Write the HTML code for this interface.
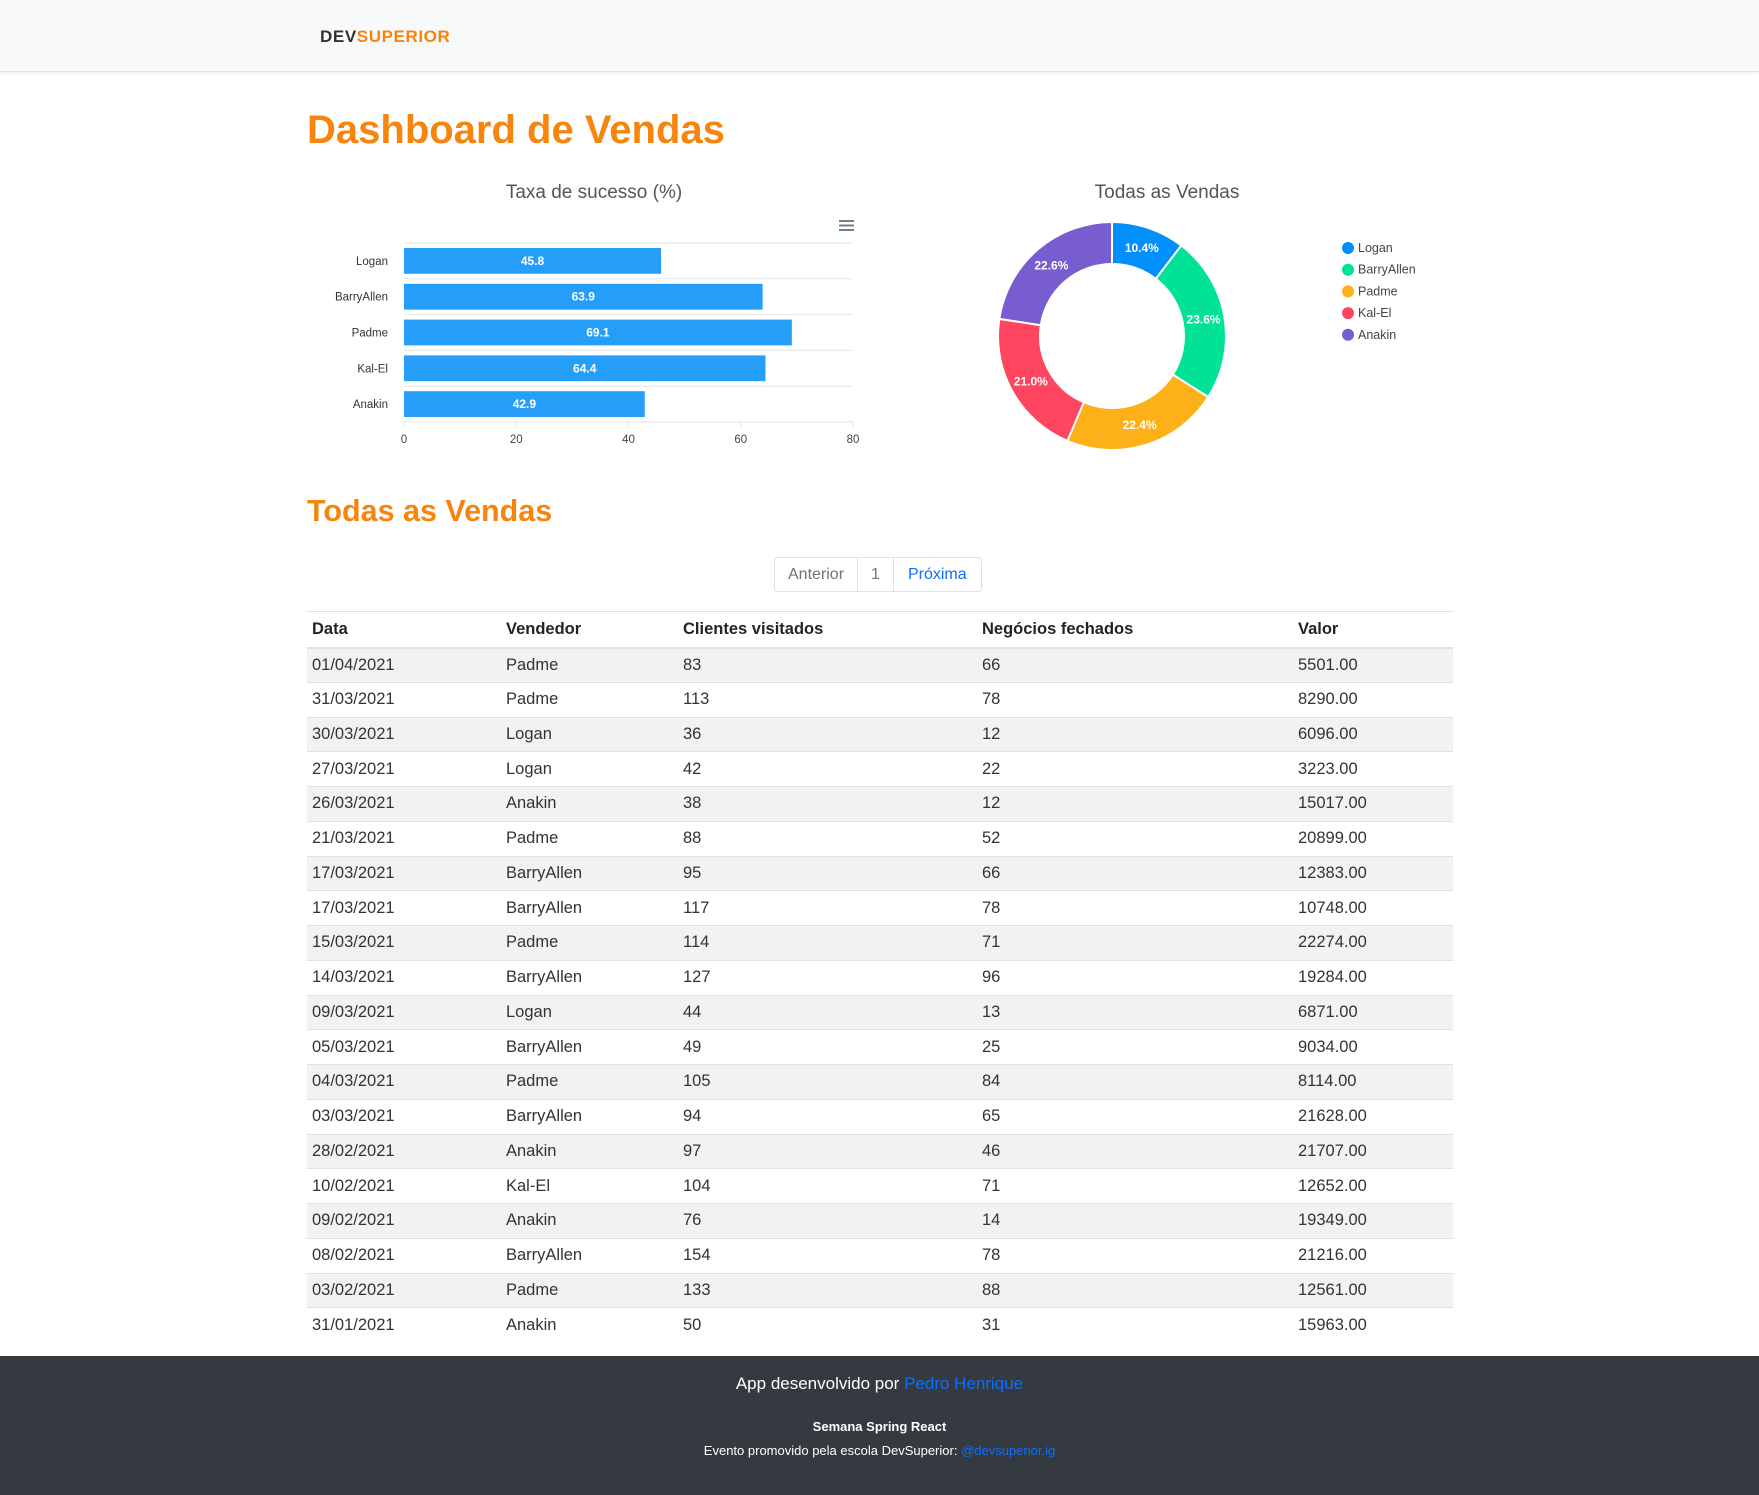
<!DOCTYPE html>
<html><head><meta charset="utf-8">
<style>
*{box-sizing:border-box;margin:0;padding:0}
body{width:1759px;height:1495px;overflow:hidden;background:#fff;font-family:"Liberation Sans",sans-serif;color:#212529;position:relative}
.nav{position:absolute;left:0;top:0;width:1759px;height:72px;background:#f8f9fa;border-bottom:1px solid #e3e3e3;box-shadow:0 1px 3px rgba(0,0,0,.08)}
.logo{position:absolute;left:320px;top:27px;font-weight:bold;font-size:17px;letter-spacing:0.6px}
h1{position:absolute;left:307px;top:108px;font-size:40px;color:#f7850d;font-weight:bold}
h2{position:absolute;left:307px;top:494px;font-size:30.5px;color:#f7850d;font-weight:bold}
.pag{position:absolute;left:774px;top:557px;height:35px;display:flex;border:1px solid #dee2e6;border-radius:4px;font-size:16px}
.pag span{padding:0 13px;line-height:33px;color:#6c757d;border-right:1px solid #dee2e6}
.pag span:last-child{border:none;color:#0d6efd;padding:0 14px}
table{position:absolute;left:307px;top:611px;width:1146px;border-collapse:collapse;font-size:16.5px}
th{text-align:left;height:36px;padding-left:5px;border-top:1px solid #dee2e6;border-bottom:2px solid #dee2e6;font-weight:bold}
td{height:34.75px;padding-left:5px;border-bottom:1px solid #dee2e6;color:#333}
tbody tr:last-child td{border-bottom:none}
tbody tr:nth-child(odd){background:#f2f2f2}
.foot{position:absolute;left:0;top:1356px;width:1759px;height:139px;background:#343a40;color:#fff;text-align:center}
.foot a{color:#0d6efd;text-decoration:none}
</style></head><body>
<div class="nav"><div class="logo"><span style="color:#333">DEV</span><span style="color:#f7850d">SUPERIOR</span></div></div>
<h1>Dashboard de Vendas</h1>
<svg id="bar" style="position:absolute;left:300px;top:170px" width="580" height="290"></svg>
<svg id="donut" style="position:absolute;left:980px;top:170px" width="460" height="300"></svg>
<h2>Todas as Vendas</h2>
<div class="pag"><span>Anterior</span><span>1</span><span>Próxima</span></div>
<table>
<colgroup><col style="width:194px"><col style="width:177px"><col style="width:299px"><col style="width:316px"><col></colgroup>
<thead><tr><th>Data</th><th>Vendedor</th><th>Clientes visitados</th><th>Negócios fechados</th><th>Valor</th></tr></thead>
<tbody id="tb"></tbody></table>
<div class="foot">
<div style="position:absolute;top:18px;width:100%;font-size:17px">App desenvolvido por <a>Pedro Henrique</a></div>
<div style="position:absolute;top:63px;width:100%;font-size:13px;font-weight:bold">Semana Spring React</div>
<div style="position:absolute;top:87px;width:100%;font-size:13px">Evento promovido pela escola DevSuperior: <a>@devsuperior.ig</a></div>
</div>
<script>
const sellers=["Logan","BarryAllen","Padme","Kal-El","Anakin"];
const rates=[45.8,63.9,69.1,64.4,42.9];
const xTicks=[0,20,40,60,80];
const shares=[10.4,23.6,22.4,21.0,22.6];
const donutColors=["#008FFB","#00E396","#FEB019","#FF4560","#775DD0"];
const rows=[["01/04/2021","Padme",83,66,"5501.00"],["31/03/2021","Padme",113,78,"8290.00"],["30/03/2021","Logan",36,12,"6096.00"],["27/03/2021","Logan",42,22,"3223.00"],["26/03/2021","Anakin",38,12,"15017.00"],["21/03/2021","Padme",88,52,"20899.00"],["17/03/2021","BarryAllen",95,66,"12383.00"],["17/03/2021","BarryAllen",117,78,"10748.00"],["15/03/2021","Padme",114,71,"22274.00"],["14/03/2021","BarryAllen",127,96,"19284.00"],["09/03/2021","Logan",44,13,"6871.00"],["05/03/2021","BarryAllen",49,25,"9034.00"],["04/03/2021","Padme",105,84,"8114.00"],["03/03/2021","BarryAllen",94,65,"21628.00"],["28/02/2021","Anakin",97,46,"21707.00"],["10/02/2021","Kal-El",104,71,"12652.00"],["09/02/2021","Anakin",76,14,"19349.00"],["08/02/2021","BarryAllen",154,78,"21216.00"],["03/02/2021","Padme",133,88,"12561.00"],["31/01/2021","Anakin",50,31,"15963.00"]];
const NS="http://www.w3.org/2000/svg";
function mk(p,t,a,txt){const e=document.createElementNS(NS,t);for(const k in a)e.setAttribute(k,a[k]);if(txt!==undefined)e.textContent=txt;p.appendChild(e);return e;}
const tb=document.getElementById('tb');
rows.forEach(r=>{const tr=document.createElement('tr');


r.forEach(c=>{const td=document.createElement('td');td.textContent=c;tr.appendChild(td);});tb.appendChild(tr);});
const b=document.getElementById('bar');
const L=104,R=553,T=73,B=252,band=(B-T)/sellers.length;
const x=v=>L+(v/80)*(R-L);
const t=mk(b,'text',{x:294,y:28,'text-anchor':'middle','font-size':19,fill:'#555'},'Taxa de sucesso (%)');


[0,1,2].forEach(i=>mk(b,'rect',{x:539,y:50+i*4.5,width:15,height:2,fill:'#6e8192'}));
for(let i=0;i<=sellers.length;i++)mk(b,'line',{x1:L,x2:R,y1:T+i*band,y2:T+i*band,stroke:'#e6e6e6'});
xTicks.forEach(v=>{mk(b,'line',{x1:x(v),x2:x(v),y1:B,y2:B+5,stroke:'#e0e0e0'});mk(b,'text',{x:x(v),y:273,'text-anchor':'middle','font-size':11.5,fill:'#444'},v);});
sellers.forEach((s,i)=>{const y0=T+i*band+5;
const r=mk(b,'rect',{x:L,y:y0,width:x(rates[i])-L,height:band-10,fill:'#259ef9'});


mk(b,'text',{x:(L+x(rates[i]))/2,y:y0+(band-10)/2+4,'text-anchor':'middle','font-size':12,'font-weight':'bold',fill:'#fff'},rates[i].toFixed(1));
mk(b,'text',{x:88,y:y0+(band-10)/2+4,'text-anchor':'end','font-size':11.5,fill:'#333'},s);});
const d=document.getElementById('donut');
const t2=mk(d,'text',{x:187,y:28,'text-anchor':'middle','font-size':19,fill:'#555'},'Todas as Vendas');


const cx=132,cy=166,ro=114,ri=72,tot=shares.reduce((a,c)=>a+c,0);
let a0=-Math.PI/2;
shares.forEach((v,i)=>{const a1=a0+v/tot*2*Math.PI,lg=(a1-a0)>Math.PI?1:0;
const P=(r,a)=>[cx+r*Math.cos(a),cy+r*Math.sin(a)];
const [x1,y1]=P(ro,a0),[x2,y2]=P(ro,a1),[x3,y3]=P(ri,a1),[x4,y4]=P(ri,a0);
const p=mk(d,'path',{d:`M${x1},${y1}A${ro},${ro} 0 ${lg} 1 ${x2},${y2}L${x3},${y3}A${ri},${ri} 0 ${lg} 0 ${x4},${y4}Z`,fill:donutColors[i],stroke:'#fff','stroke-width':2});


const am=(a0+a1)/2,[lx,ly]=P((ro+ri)/2,am);
mk(d,'text',{x:lx,y:ly+4,'text-anchor':'middle','font-size':12,'font-weight':'bold',fill:'#fff'},v.toFixed(1)+'%');
const g=mk(d,'g',{});


mk(g,'circle',{cx:368,cy:78+i*21.7,r:6,fill:donutColors[i]});
mk(g,'text',{x:378,y:82+i*21.7,'font-size':12.5,fill:'#444'},sellers[i]);
a0=a1;});
</script>
</body></html>
